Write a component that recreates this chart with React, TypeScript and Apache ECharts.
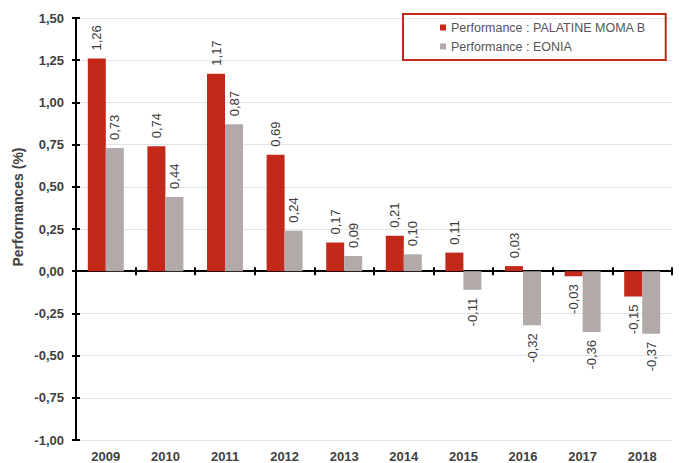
import React, { useEffect, useRef } from "react";
import * as echarts from "echarts";

const years = ["2009", "2010", "2011", "2012", "2013", "2014", "2015", "2016", "2017", "2018"];
const palatine = [1.26, 0.74, 1.17, 0.69, 0.17, 0.21, 0.11, 0.03, -0.03, -0.15];
const eonia = [0.73, 0.44, 0.87, 0.24, 0.09, 0.10, -0.11, -0.32, -0.36, -0.37];
const seriesNames = ["Performance : PALATINE MOMA B", "Performance : EONIA"];
const yAxisName = "Performances (%)";

const RED = "#c2291b";
const GRAY = "#b2aaa8";
const FONT = "'Liberation Sans', Arial, sans-serif";

const fmt = (v: number) => v.toFixed(2).replace(".", ",");

const buildData = (vals: number[]) =>
  vals.map((v) => ({
    value: v,
    label: v >= 0
      ? { position: "top", align: "left", verticalAlign: "middle" }
      : { position: "bottom", align: "right", verticalAlign: "middle" },
  }));

export default function App() {
  const ref = useRef<HTMLDivElement>(null);
  useEffect(() => {
    if (!ref.current) return;
    const chart = echarts.init(ref.current, null, { renderer: "svg" });
    const labelCommon = {
      show: true,
      rotate: 90,
      distance: 8,
      color: "#3a3a3a",
      fontSize: 13,
      fontFamily: FONT,
      formatter: (p: any) => fmt(p.value),
    };
    chart.setOption({
      animation: false,
      grid: { left: 76, right: 7, top: 18, bottom: 23 },
      legend: {
        orient: "vertical",
        left: 403,
        top: 14,
        padding: [7, 20, 7, 37],
        itemGap: 6,
        itemWidth: 6,
        itemHeight: 6,
        icon: "rect",
        borderColor: RED,
        borderWidth: 2,
        textStyle: { fontSize: 12.5, color: "#555", fontFamily: FONT },
        data: seriesNames,
      },
      graphic: [
        {
          type: "text",
          x: 18,
          y: 207,
          rotation: Math.PI / 2,
          style: {
            text: yAxisName,
            textAlign: "center",
            textVerticalAlign: "middle",
            font: `bold 14px ${FONT}`,
            fill: "#404040",
          },
        },
      ],
      xAxis: [
        {
          type: "category",
          data: years,
          position: "bottom",
          axisLine: { show: false, onZero: false },
          axisTick: { show: false },
          axisLabel: { margin: 10, fontSize: 13, fontWeight: "bold", color: "#404040", fontFamily: FONT },
        },
        {
          type: "category",
          data: years,
          position: "top",
          axisLine: { show: true, onZero: true, lineStyle: { color: "#000", width: 2 } },
          axisTick: { show: true, length: 4, lineStyle: { color: "#000", width: 2 } },
          axisLabel: { show: false },
        },
        {
          type: "category",
          data: years,
          position: "bottom",
          axisLine: { show: false, onZero: true },
          axisTick: { show: true, length: 4, lineStyle: { color: "#000", width: 2 } },
          axisLabel: { show: false },
        },
      ],
      yAxis: [
        {
          type: "value",
          min: -1,
          max: 1.5,
          interval: 0.25,
          position: "left",
          axisLine: { show: true, lineStyle: { color: "#000", width: 2 } },
          axisTick: { show: true, length: 4, lineStyle: { color: "#000", width: 2 } },
          axisLabel: {
            margin: 12,
            fontSize: 13,
            fontWeight: "bold",
            color: "#404040",
            fontFamily: FONT,
            formatter: (v: number) => fmt(v),
          },
          splitLine: { show: true, lineStyle: { color: "#e4e4e4", width: 1 } },
        },
        {
          type: "value",
          min: -1,
          max: 1.5,
          interval: 0.25,
          position: "left",
          axisLine: { show: false },
          axisTick: { show: true, inside: true, length: 4, lineStyle: { color: "#000", width: 2 } },
          axisLabel: { show: false },
          splitLine: { show: false },
        },
      ],
      series: [
        {
          name: seriesNames[0],
          type: "bar",
          xAxisIndex: 0,
          yAxisIndex: 0,
          barWidth: 18,
          barGap: "0%",
          itemStyle: { color: RED },
          label: labelCommon,
          data: buildData(palatine),
        },
        {
          name: seriesNames[1],
          type: "bar",
          xAxisIndex: 0,
          yAxisIndex: 0,
          barWidth: 18,
          barGap: "0%",
          itemStyle: { color: GRAY },
          label: labelCommon,
          data: buildData(eonia),
        },
      ],
    });
    return () => chart.dispose();
  }, []);
  return <div ref={ref} style={{ width: 679, height: 463, position: "absolute", left: 0, top: 0 }} />;
}
